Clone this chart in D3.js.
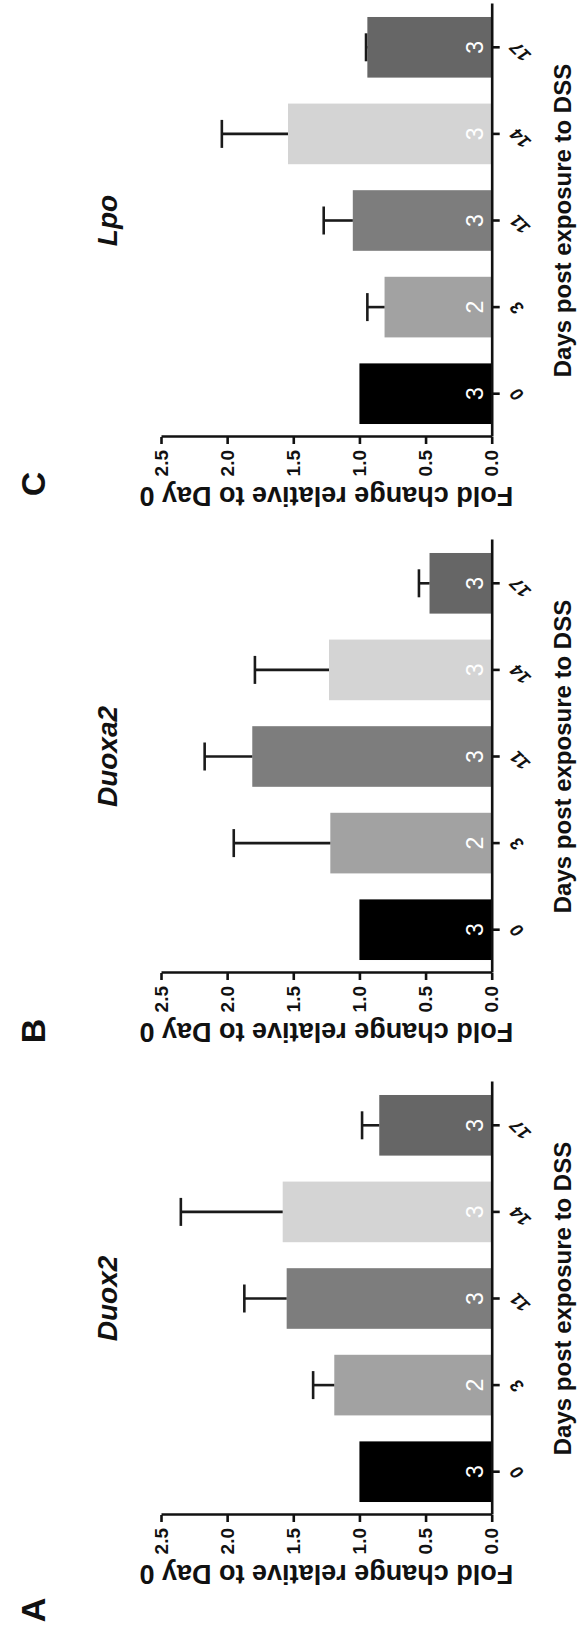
<!DOCTYPE html>
<html>
<head>
<meta charset="utf-8">
<script src="https://cdn.jsdelivr.net/npm/d3@7"></script>
<style>
  body { margin: 0; background: #fff; }
  text { font-family: "Liberation Sans", Arial, sans-serif; }
</style>
</head>
<body>
<div id="chart"></div>
<script>
// values (fold change, mean and upper SEM)
const days = ["0", "3", "11", "14", "17"]
const nLabels = ["3", "2", "3", "3", "3"]
const yTicks = [0, 0.5, 1.0, 1.5, 2.0, 2.5]

const duox2Mean = [1.0, 1.19, 1.55, 1.58, 0.85]
const duox2Err = [0, 0.16, 0.32, 0.77, 0.13]
const duoxa2Mean = [1.0, 1.22, 1.81, 1.23, 0.47]
const duoxa2Err = [0, 0.73, 0.36, 0.56, 0.08]
const lpoMean = [1.0, 0.81, 1.05, 1.54, 0.94]
const lpoErr = [0, 0.13, 0.22, 0.50, 0.01]

const barColors = ["#000000", "#a2a2a2", "#7d7d7d", "#d4d4d4", "#666666"]

// the figure is laid out landscape and then turned a quarter turn
const W = 1641, H = 580
const panels = [
    {letter: "A", gene: "Duox2", mean: duox2Mean, err: duox2Err, left: 126, letterX: -95},
    {letter: "B", gene: "Duoxa2", mean: duoxa2Mean, err: duoxa2Err, left: 668, letterX: -58},
    {letter: "C", gene: "Lpo", mean: lpoMean, err: lpoErr, left: 1204, letterX: -47}
]

const svg = d3.select("#chart")
    .append("svg")
    .attr("width", H)
    .attr("height", W)

svg.append("rect").attr("width", H).attr("height", W).attr("fill", "#fff")

const fig = svg.append("g")
    .attr("transform", `rotate(-90) translate(${-W},0)`)

const y = d3.scaleLinear().domain([0, 2.5]).range([491.7, 161])
const x = d3.scaleBand().domain(days).range([0, 433]).paddingInner(0.3).paddingOuter(0.15)

panels.forEach(p => {
    const g = fig.append("g").attr("transform", `translate(${p.left},0)`)
    const rows = days.map((d, i) => ({day: d, m: p.mean[i], e: p.err[i], n: nLabels[i], c: barColors[i]}))

    // bars
    g.selectAll("rect.bar")
        .data(rows)
        .enter().append("rect")
        .attr("class", "bar")
        .attr("x", d => x(d.day))
        .attr("y", d => y(d.m))
        .attr("width", x.bandwidth())
        .attr("height", d => y(0) - y(d.m))
        .attr("fill", d => d.c)

    // error bars (upper only)
    const eb = g.selectAll("g.err")
        .data(rows.filter(d => d.e > 0))
        .enter().append("g")
        .attr("class", "err")
        .attr("stroke", "#1a1a1a")
        .attr("stroke-width", 2.6)
    eb.append("line")
        .attr("x1", d => x(d.day) + x.bandwidth() / 2)
        .attr("x2", d => x(d.day) + x.bandwidth() / 2)
        .attr("y1", d => y(d.m))
        .attr("y2", d => y(d.m + d.e))
    eb.append("line")
        .attr("x1", d => x(d.day) + x.bandwidth() / 2 - 14)
        .attr("x2", d => x(d.day) + x.bandwidth() / 2 + 14)
        .attr("y1", d => y(d.m + d.e))
        .attr("y2", d => y(d.m + d.e))

    // n inside bars
    g.selectAll("text.n")
        .data(rows)
        .enter().append("text")
        .attr("class", "n")
        .attr("x", d => x(d.day) + x.bandwidth() / 2)
        .attr("y", y(0) - 9)
        .attr("text-anchor", "middle")
        .attr("fill", "#fff")
        .style("font-size", "23px")
        .text(d => d.n)

    // value axis
    const yAxis = g.append("g")
        .call(d3.axisLeft(y).tickValues(yTicks).tickFormat(d3.format(".1f")).tickSize(7).tickSizeOuter(0).tickPadding(6))
    yAxis.selectAll("path, line").attr("stroke", "#111").attr("stroke-width", 2.6)
    yAxis.selectAll("text").attr("fill", "#111").style("font-size", "19px").style("font-weight", "bold")

    // day axis
    const xAxis = g.append("g")
        .attr("transform", `translate(0,${y(0)})`)
        .call(d3.axisBottom(x).tickSize(8).tickSizeOuter(0))
    xAxis.selectAll("path, line").attr("stroke", "#111").attr("stroke-width", 2.6)
    xAxis.selectAll("text")
        .attr("x", 0).attr("y", 0).attr("dy", 0)
        .attr("transform", "translate(7,26) rotate(-45)")
        .style("text-anchor", "end")
        .attr("fill", "#111")
        .style("font-size", "18px")
        .style("font-weight", "bold")
        .style("font-style", "italic")

    // axis titles
    g.append("text")
        .attr("transform", `translate(-50,${(y(0) + y(2.5)) / 2}) rotate(-90)`)
        .attr("text-anchor", "middle")
        .style("font-size", "27px")
        .style("font-weight", "bold")
        .attr("fill", "#111")
        .text("Fold change relative to Day 0")

    g.append("text")
        .attr("x", 216.5)
        .attr("y", 571)
        .attr("text-anchor", "middle")
        .style("font-size", "24px")
        .style("font-weight", "bold")
        .attr("fill", "#111")
        .text("Days post exposure to DSS")

    // gene title
    g.append("text")
        .attr("x", 216.5)
        .attr("y", 117)
        .attr("text-anchor", "middle")
        .style("font-size", "28px")
        .style("font-weight", "bold")
        .style("font-style", "italic")
        .attr("fill", "#111")
        .text(p.gene)

    // panel letter
    g.append("text")
        .attr("x", p.letterX)
        .attr("y", 45)
        .attr("text-anchor", "middle")
        .style("font-size", "34px")
        .style("font-weight", "bold")
        .attr("fill", "#111")
        .text(p.letter)
})
</script>
</body>
</html>
